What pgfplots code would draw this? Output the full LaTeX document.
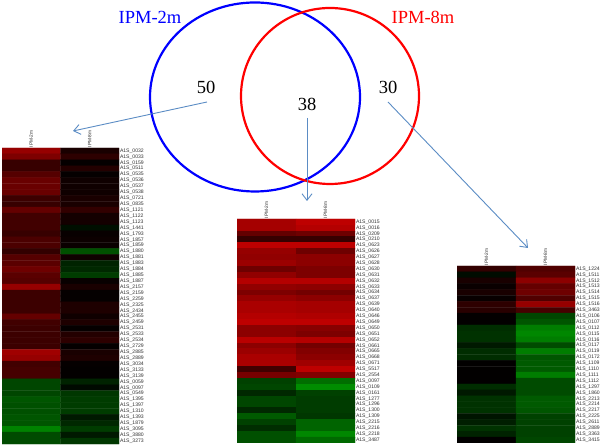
\documentclass[border=0pt]{standalone}
\usepackage{fontspec}
\setmainfont{Liberation Sans}
\newfontfamily\venn{Liberation Serif}
\usepackage{pgfplots}
\pgfplotsset{compat=1.18}
\usetikzlibrary{arrows.meta}
\definecolor{arrowblue}{HTML}{5B8CC4}
\definecolor{labelgrey}{HTML}{303030}
\tikzset{barb/.style={arrowblue, line width=0.9bp, -{Straight Barb[length=6.5bp,width=10bp]}}}
\pgfplotsset{
  colormap={redgreen}{rgb255=(0,255,0) rgb255=(0,0,0) rgb255=(255,0,0)},
  heat/.style={
    scale only axis, anchor=south west, width=117bp,
    y dir=reverse, enlargelimits=false,
    xmin=-0.5, xmax=1.5, ymin=-0.5,
    colormap name=redgreen, point meta min=-255, point meta max=255,
    axis line style={draw=none}, tick style={draw=none},
    xtick={0,1}, xticklabel pos=top, ytick pos=right, yticklabel pos=right,
    xticklabel style={font=\fontsize{4.8bp}{5bp}\selectfont, rotate=90, anchor=west, text=labelgrey, inner sep=0.5bp, yshift=0bp},
    yticklabel style={font=\fontsize{5.1bp}{5.5bp}\selectfont, anchor=west, text=labelgrey, inner sep=0.8bp},
    major tick length=0pt,
  },
}
\begin{document}
\begin{tikzpicture}[x=1bp,y=1bp]
\path[use as bounding box] (0,0) rectangle (600,446);

% heatmap for the 50 genes only in IPM-2m
\begin{axis}[heat, at={(2bp,2bp)}, height=296bp, ymax=49.5,
  xticklabels={IPM-2m,IPM-8m}, ytick={0,...,49},
  yticklabels={A1S\_0032,A1S\_0033,A1S\_0159,A1S\_0511,A1S\_0535,A1S\_0536,A1S\_0537,A1S\_0538,A1S\_0721,A1S\_0835,
    A1S\_1121,A1S\_1122,A1S\_1123,A1S\_1441,A1S\_1793,A1S\_1857,A1S\_1859,A1S\_1880,A1S\_1881,A1S\_1883,
    A1S\_1884,A1S\_1885,A1S\_1887,A1S\_2157,A1S\_2159,A1S\_2259,A1S\_2325,A1S\_2434,A1S\_2455,A1S\_2459,
    A1S\_2531,A1S\_2533,A1S\_2534,A1S\_2729,A1S\_2885,A1S\_2889,A1S\_3034,A1S\_3133,A1S\_3139,A1S\_0059,
    A1S\_0097,A1S\_0549,A1S\_1395,A1S\_1397,A1S\_1310,A1S\_1393,A1S\_1879,A1S\_3095,A1S\_3880,A1S\_3273}]
\addplot[matrix plot*, mesh/cols=2, point meta=explicit] coordinates {
(0,0)[150] (1,0)[25]
(0,1)[125] (1,1)[45]
(0,2)[55] (1,2)[5]
(0,3)[55] (1,3)[35]
(0,4)[85] (1,4)[5]
(0,5)[105] (1,5)[15]
(0,6)[105] (1,6)[15]
(0,7)[105] (1,7)[15]
(0,8)[60] (1,8)[25]
(0,9)[55] (1,9)[25]
(0,10)[100] (1,10)[50]
(0,11)[65] (1,11)[20]
(0,12)[65] (1,12)[20]
(0,13)[65] (1,13)[-15]
(0,14)[55] (1,14)[8]
(0,15)[75] (1,15)[12]
(0,16)[75] (1,16)[10]
(0,17)[50] (1,17)[-80]
(0,18)[85] (1,18)[15]
(0,19)[90] (1,19)[-35]
(0,20)[110] (1,20)[-40]
(0,21)[90] (1,21)[-60]
(0,22)[85] (1,22)[8]
(0,23)[150] (1,23)[25]
(0,24)[60] (1,24)[5]
(0,25)[60] (1,25)[5]
(0,26)[60] (1,26)[30]
(0,27)[60] (1,27)[30]
(0,28)[100] (1,28)[15]
(0,29)[65] (1,29)[30]
(0,30)[60] (1,30)[5]
(0,31)[60] (1,31)[35]
(0,32)[60] (1,32)[45]
(0,33)[60] (1,33)[5]
(0,34)[160] (1,34)[25]
(0,35)[150] (1,35)[30]
(0,36)[65] (1,36)[5]
(0,37)[70] (1,37)[3]
(0,38)[70] (1,38)[3]
(0,39)[-70] (1,39)[-35]
(0,40)[-70] (1,40)[-10]
(0,41)[-70] (1,41)[-55]
(0,42)[-85] (1,42)[-60]
(0,43)[-80] (1,43)[-60]
(0,44)[-80] (1,44)[-60]
(0,45)[-85] (1,45)[-25]
(0,46)[-85] (1,46)[-40]
(0,47)[-130] (1,47)[-60]
(0,48)[-75] (1,48)[-25]
(0,49)[-75] (1,49)[-55]
};
\end{axis}

% heatmap for the 38 shared genes
\begin{axis}[heat, at={(237bp,3bp)}, width=118bp, height=224bp, ymax=37.5,
  xticklabels={IPM-2m,IPM-8m}, ytick={0,...,37},
  yticklabels={A1S\_0015,A1S\_0016,A1S\_0209,A1S\_0210,A1S\_0623,A1S\_0626,A1S\_0627,A1S\_0628,A1S\_0630,A1S\_0631,
    A1S\_0632,A1S\_0633,A1S\_0634,A1S\_0637,A1S\_0639,A1S\_0640,A1S\_0646,A1S\_0649,A1S\_0650,A1S\_0651,
    A1S\_0652,A1S\_0661,A1S\_0665,A1S\_0668,A1S\_0671,A1S\_5517,A1S\_2554,A1S\_0097,A1S\_0109,A1S\_0161,
    A1S\_1277,A1S\_1296,A1S\_1300,A1S\_1309,A1S\_2215,A1S\_2216,A1S\_2218,A1S\_3487}]
\addplot[matrix plot*, mesh/cols=2, point meta=explicit] coordinates {
(0,0)[165] (1,0)[190]
(0,1)[165] (1,1)[180]
(0,2)[100] (1,2)[110]
(0,3)[55] (1,3)[55]
(0,4)[190] (1,4)[190]
(0,5)[150] (1,5)[110]
(0,6)[145] (1,6)[140]
(0,7)[155] (1,7)[140]
(0,8)[110] (1,8)[125]
(0,9)[145] (1,9)[125]
(0,10)[180] (1,10)[180]
(0,11)[145] (1,11)[140]
(0,12)[125] (1,12)[115]
(0,13)[150] (1,13)[140]
(0,14)[170] (1,14)[165]
(0,15)[170] (1,15)[165]
(0,16)[180] (1,16)[175]
(0,17)[190] (1,17)[190]
(0,18)[140] (1,18)[135]
(0,19)[140] (1,19)[125]
(0,20)[185] (1,20)[180]
(0,21)[140] (1,21)[115]
(0,22)[155] (1,22)[130]
(0,23)[170] (1,23)[140]
(0,24)[170] (1,24)[160]
(0,25)[65] (1,25)[190]
(0,26)[120] (1,26)[130]
(0,27)[-65] (1,27)[-110]
(0,28)[-70] (1,28)[-140]
(0,29)[-40] (1,29)[-65]
(0,30)[-70] (1,30)[-60]
(0,31)[-70] (1,31)[-60]
(0,32)[-40] (1,32)[-60]
(0,33)[-90] (1,33)[-55]
(0,34)[-65] (1,34)[-100]
(0,35)[-45] (1,35)[-100]
(0,36)[-80] (1,36)[-135]
(0,37)[-80] (1,37)[-105]
};
\end{axis}

% heatmap for the 30 genes only in IPM-8m
\begin{axis}[heat, at={(457bp,3bp)}, width=118bp, height=177bp, ymax=29.5,
  xticklabels={IPM-2m,IPM-8m}, ytick={0,...,29},
  yticklabels={A1S\_1224,A1S\_1511,A1S\_1512,A1S\_1513,A1S\_1514,A1S\_1515,A1S\_1516,A1S\_3463,A1S\_0106,A1S\_0107,
    A1S\_0112,A1S\_0115,A1S\_0116,A1S\_0117,A1S\_0119,A1S\_0172,A1S\_1109,A1S\_1110,A1S\_1111,A1S\_1112,
    A1S\_1297,A1S\_1860,A1S\_2213,A1S\_2214,A1S\_2217,A1S\_2225,A1S\_2611,A1S\_2889,A1S\_3363,A1S\_3415}]
\addplot[matrix plot*, mesh/cols=2, point meta=explicit] coordinates {
(0,0)[50] (1,0)[80]
(0,1)[-12] (1,1)[90]
(0,2)[25] (1,2)[140]
(0,3)[10] (1,3)[100]
(0,4)[25] (1,4)[110]
(0,5)[8] (1,5)[80]
(0,6)[45] (1,6)[150]
(0,7)[40] (1,7)[70]
(0,8)[3] (1,8)[-70]
(0,9)[3] (1,9)[-85]
(0,10)[-45] (1,10)[-125]
(0,11)[-50] (1,11)[-135]
(0,12)[-50] (1,12)[-125]
(0,13)[-25] (1,13)[-75]
(0,14)[-45] (1,14)[-125]
(0,15)[-45] (1,15)[-85]
(0,16)[2] (1,16)[-90]
(0,17)[2] (1,17)[-90]
(0,18)[2] (1,18)[-125]
(0,19)[2] (1,19)[-75]
(0,20)[-45] (1,20)[-75]
(0,21)[-25] (1,21)[-75]
(0,22)[-50] (1,22)[-90]
(0,23)[-50] (1,23)[-90]
(0,24)[-50] (1,24)[-85]
(0,25)[-20] (1,25)[-65]
(0,26)[-30] (1,26)[-65]
(0,27)[-50] (1,27)[-65]
(0,28)[-35] (1,28)[-65]
(0,29)[2] (1,29)[-70]
};
\end{axis}

% venn diagram and arrows, in image pixel coordinates
\begin{axis}[hide axis, scale only axis, anchor=south west, at={(0,0)},
  width=600bp, height=446bp, xmin=0, xmax=600, ymin=0, ymax=446, y dir=reverse]
\draw[blue, line width=2.2bp] (axis cs:255,97) ellipse [x radius=105, y radius=94.5];
\draw[red, line width=2.2bp] (axis cs:330,96) ellipse [x radius=89, y radius=88];
\draw[barb] (axis cs:207,102) -- (axis cs:73,131);
\draw[barb] (axis cs:307,118) -- (axis cs:307,201);
\draw[barb] (axis cs:388,102) -- (axis cs:528,248);
\node[anchor=base, inner sep=0pt, text=blue, font=\venn\fontsize{18.5bp}{20bp}\selectfont] at (axis cs:150,23.5) {IPM-2m};
\node[anchor=base, inner sep=0pt, text=red, font=\venn\fontsize{18.5bp}{20bp}\selectfont] at (axis cs:423,23.5) {IPM-8m};
\node[anchor=base, inner sep=0pt, font=\venn\fontsize{18.5bp}{20bp}\selectfont] at (axis cs:206,94) {50};
\node[anchor=base, inner sep=0pt, font=\venn\fontsize{18.5bp}{20bp}\selectfont] at (axis cs:307,110.5) {38};
\node[anchor=base, inner sep=0pt, font=\venn\fontsize{18.5bp}{20bp}\selectfont] at (axis cs:388,94) {30};
\end{axis}
\end{tikzpicture}
\end{document}
